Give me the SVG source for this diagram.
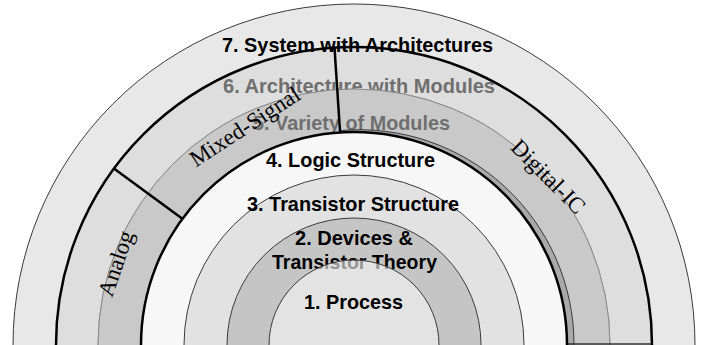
<svg xmlns="http://www.w3.org/2000/svg" width="703" height="345" viewBox="0 0 703 345">
<style>
.lbl{font-family:"Liberation Sans",Arial,sans-serif;font-weight:bold;font-size:21px;fill:#000}
.dim{fill:#6f6f6f}
.sec{font-family:"Liberation Serif","Times New Roman",serif;font-size:23px;fill:#000;text-anchor:middle}
.thin{fill:none;stroke:#3a3a3a;stroke-width:1}
.gray{fill:none;stroke:#8a8a8a;stroke-width:1}
.thick{fill:none;stroke:#000;stroke-width:2.5}
.div{stroke:#000;stroke-width:2.5;fill:none}
</style>
<rect width="703" height="345" fill="#fff"/>
<g id="layer6">
<path d="M56,345 A298,298 0 0 1 652,345 L610,345 A256,256 0 0 0 98,345 Z" fill="#dedede"/>
<path class="gray" d="M98,345 A256,256 0 0 1 610,345"/>
<text class="lbl dim" x="223" y="93" textLength="272" lengthAdjust="spacingAndGlyphs">6. Architecture with Modules</text>
</g>
<g id="layer5">
<path d="M98,345 A256,256 0 0 1 610,345 L567,345 A213,213 0 0 0 141,345 Z" fill="#c9c9c9"/>
<path class="gray" d="M98,345 A256,256 0 0 1 610,345"/>
<text class="lbl dim" x="253" y="130" textLength="197" lengthAdjust="spacingAndGlyphs">5. Variety of Modules</text>
</g>
<g id="sector-analog">
<text class="sec" transform="translate(123,266) rotate(-71)">Analog</text>
</g>
<g id="sector-mixed-signal">
<text class="sec" transform="translate(249,133) rotate(-33)">Mixed-Signal</text>
</g>
<g id="sector-digital-ic">
<path d="M339.6,130.6 A215,215 0 0 1 574,345 L567,345 A213,213 0 0 0 340.1,132.5 Z" fill="#a9a9a9"/>
<path class="thin" d="M339.6,130.6 A215,215 0 0 1 574,345"/>
<line x1="567" y1="344" x2="652" y2="344" stroke="#333" stroke-width="1.5"/>
<text class="sec" transform="translate(543,182) rotate(45)">Digital-IC</text>
</g>
<g id="dividers">
<line class="div" x1="113.9" y1="168.4" x2="182.4" y2="218.8"/>
<line class="div" x1="334.5" y1="47.6" x2="340.1" y2="132.5"/>
</g>
<g id="layer7">
<path d="M13,345 A341,341 0 0 1 695,345 L652,345 A298,298 0 0 0 56,345 Z" fill="#e8e8e8"/>
<path class="thin" d="M13,345 A341,341 0 0 1 695,345"/>
<path class="thick" d="M56,345 A298,298 0 0 1 652,345"/>
<text class="lbl" x="222" y="52" textLength="271" lengthAdjust="spacingAndGlyphs">7. System with Architectures</text>
</g>
<g id="layer4">
<path d="M141,345 A213,213 0 0 1 567,345 L524,345 A170,170 0 0 0 184,345 Z" fill="#f7f7f7"/>
<path class="thick" d="M141,345 A213,213 0 0 1 567,345"/>
<text class="lbl" x="266" y="167" textLength="169" lengthAdjust="spacingAndGlyphs">4. Logic Structure</text>
</g>
<g id="layer3">
<path d="M184,345 A170,170 0 0 1 524,345 L481,345 A127,127 0 0 0 227,345 Z" fill="#e2e2e2"/>
<path class="thin" d="M184,345 A170,170 0 0 1 524,345"/>
<text class="lbl" x="247" y="211" textLength="212" lengthAdjust="spacingAndGlyphs">3. Transistor Structure</text>
</g>
<g id="layer2">
<path d="M227,345 A127,127 0 0 1 481,345 Z" fill="#c5c5c5"/>
<path class="thin" d="M227,345 A127,127 0 0 1 481,345"/>
<text class="lbl" x="295" y="245" textLength="118" lengthAdjust="spacingAndGlyphs">2. Devices &amp;</text>
<text class="lbl" x="272" y="269" textLength="165" lengthAdjust="spacingAndGlyphs">Transistor Theory</text>
</g>
<g id="layer1">
<path d="M269,345 A85,85 0 0 1 439,345 Z" fill="#f6f6f6" fill-opacity="0.6"/>
<path class="thin" d="M269,345 A85,85 0 0 1 439,345"/>
<text class="lbl" x="304" y="309" textLength="99" lengthAdjust="spacingAndGlyphs">1. Process</text>
</g>
</svg>
